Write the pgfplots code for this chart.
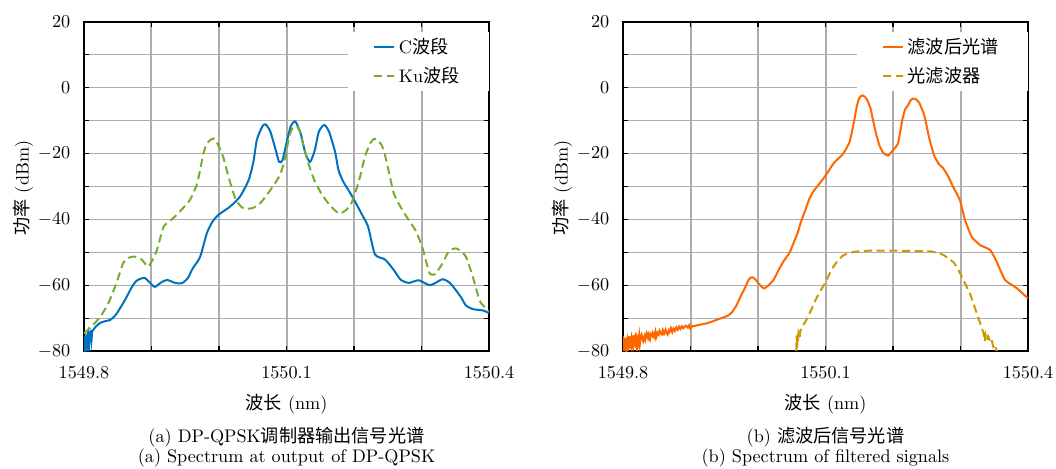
\documentclass[border=0pt]{standalone}
\usepackage{fontspec}
\usepackage{pgfplots}
\pgfplotsset{compat=1.18}
\newfontfamily\cjk{Noto Sans CJK SC}
\definecolor{cblue}{RGB}{0,114,189}
\definecolor{cgreen}{RGB}{119,172,48}
\definecolor{corange}{RGB}{255,102,0}
\definecolor{cgold}{RGB}{204,153,0}
\definecolor{cgrid}{RGB}{172,172,172}
\pgfplotsset{myax/.style={
  width=222.75pt, height=180.95pt, scale only axis,
  xmin=1549.8, xmax=1550.4, ymin=-80, ymax=20,
  xtick={1549.8,1549.9,1550.0,1550.1,1550.2,1550.3,1550.4},
  xticklabels={1549.8,,,1550.1,,,1550.4},
  ytick={-80,-70,-60,-50,-40,-30,-20,-10,0,10,20},
  yticklabels={$-80$,,$-60$,,$-40$,,$-20$,,$0$,,$20$},
  xmajorgrids, ymajorgrids,
  major x grid style={cgrid, line width=1.1pt},
  major y grid style={cgrid, line width=0.6pt},
  major tick length=2.6pt,
  tick style={black, line width=0.6pt},
  axis line style={line width=0.8pt},
  scaled x ticks=false,
  xticklabel style={yshift=-5pt},
  yticklabel style={xshift=-4pt},
  legend style={at={(1,1)}, anchor=north east, yshift=-5.5pt, draw=none, fill=white,
    inner xsep=14pt, inner ysep=1.3pt, row sep=2pt},
  legend cell align=left,
  legend image code/.code={\draw[##1] (0pt,0pt) -- (11pt,0pt);},
}}
\begin{document}
\begin{tikzpicture}
\useasboundingbox (-46.2pt,-64.35pt) rectangle (534.6pt,193.05pt);
\begin{axis}[myax, at={(0pt,0pt)}, anchor=south west]
\addplot[cblue, line width=1.1pt, smooth, tension=0.4] coordinates {
(1549.800,-75.5)(1549.8015,-80)(1549.803,-76)(1549.8045,-78.5)(1549.806,-74.5)(1549.807,-80)(1549.808,-75)(1549.810,-74)(1549.811,-77)(1549.812,-74.2)(1549.814,-73.5)(1549.818,-72.5)(1549.8237,-71.5)(1549.830,-71)(1549.8385,-70.6)(1549.845,-69.5)(1549.8504,-68)(1549.8607,-64.5)(1549.8711,-60.5)(1549.877,-58.8)(1549.883,-58.1)(1549.890,-57.8)(1549.898,-59.3)(1549.905,-60.5)(1549.914,-59.2)(1549.923,-58.4)(1549.935,-59.3)(1549.945,-59.4)(1549.954,-57.8)(1549.961,-54.9)(1549.972,-51.4)(1549.982,-44.2)(1549.991,-40.5)(1550.0,-38.5)(1550.0164,-36.1)(1550.031,-33.1)(1550.044,-28.0)(1550.051,-22.5)(1550.056,-15.9)(1550.064,-11.8)(1550.069,-11.1)(1550.076,-13.3)(1550.084,-18.9)(1550.089,-22.5)(1550.094,-22.0)(1550.101,-15.9)(1550.106,-11.8)(1550.111,-10.3)(1550.114,-10.5)(1550.121,-13.9)(1550.128,-19.9)(1550.135,-22.5)(1550.142,-18.9)(1550.148,-13.3)(1550.156,-11.3)(1550.163,-13.3)(1550.172,-19.5)(1550.177,-25)(1550.184,-28.5)(1550.193,-31.5)(1550.2,-34)(1550.211,-38.2)(1550.221,-42.3)(1550.231,-50.6)(1550.246,-52.2)(1550.259,-55.4)(1550.269,-58.3)(1550.281,-59.3)(1550.296,-58.5)(1550.313,-60.0)(1550.331,-58.2)(1550.343,-59.5)(1550.358,-63.5)(1550.366,-66.2)(1550.377,-67.3)(1550.3916,-67.7)(1550.4,-68.5)};
\addlegendentry{C{\cjk 波段}}
\addplot[cgreen, line width=1.1pt, dash pattern=on 4.5pt off 2.5pt, smooth, tension=0.4] coordinates {
(1549.800,-74.6)(1549.811,-72.6)(1549.824,-69.6)(1549.836,-65.5)(1549.848,-59.4)(1549.858,-53.3)(1549.865,-51.8)(1549.873,-51.3)(1549.883,-51.8)(1549.890,-53.3)(1549.895,-54.4)(1549.901,-52.5)(1549.908,-49.3)(1549.918,-42.2)(1549.927,-40.5)(1549.937,-38.7)(1549.947,-36.5)(1549.957,-34.1)(1549.967,-29.5)(1549.972,-25)(1549.977,-19.9)(1549.982,-17)(1549.987,-15.9)(1549.992,-15.4)(1549.9965,-16.4)(1550.006,-20.9)(1550.014,-27.0)(1550.024,-33.6)(1550.030,-35.5)(1550.036,-36.6)(1550.049,-36.6)(1550.061,-35.1)(1550.076,-31.1)(1550.089,-27.0)(1550.096,-23.0)(1550.103,-15.9)(1550.107,-13)(1550.111,-11.8)(1550.116,-11.8)(1550.120,-13.5)(1550.123,-15.9)(1550.131,-22.0)(1550.141,-28.0)(1550.153,-32.6)(1550.166,-36.1)(1550.178,-38.2)(1550.188,-37.2)(1550.196,-35.1)(1550.2015,-32.1)(1550.209,-27.0)(1550.216,-21.0)(1550.224,-16.9)(1550.229,-15.6)(1550.234,-15.7)(1550.239,-16.8)(1550.244,-18.9)(1550.251,-25.0)(1550.259,-32.1)(1550.269,-36.2)(1550.281,-40.2)(1550.291,-43.3)(1550.301,-48.3)(1550.311,-55.9)(1550.316,-56.8)(1550.321,-56.5)(1550.331,-53.4)(1550.338,-50.5)(1550.343,-49.3)(1550.350,-48.8)(1550.356,-49.3)(1550.366,-51.4)(1550.376,-57.5)(1550.386,-64.6)(1550.393,-66.5)(1550.4,-68.0)};
\addlegendentry{Ku{\cjk 波段}}
\end{axis}
\begin{axis}[myax, at={(296.45pt,0pt)}, anchor=south west]
\addplot[corange, line width=1.1pt, smooth, tension=0.3] coordinates {
(1549.800,-76.5)(1549.801,-80)(1549.8015,-77)(1549.803,-78.5)(1549.8035,-76)(1549.805,-79.5)(1549.806,-77.5)(1549.807,-80)(1549.8075,-76.5)(1549.809,-78)(1549.810,-75.5)(1549.8105,-77.5)(1549.812,-79)(1549.813,-76)(1549.814,-77.5)(1549.815,-75.3)(1549.8155,-78.5)(1549.817,-76.5)(1549.818,-77.4)(1549.819,-75.5)(1549.820,-76.5)(1549.821,-80)(1549.8215,-76)(1549.823,-77.5)(1549.824,-75.2)(1549.825,-78)(1549.826,-76)(1549.8275,-75)(1549.829,-76.2)(1549.830,-77)(1549.832,-75.5)(1549.833,-76.5)(1549.835,-74.5)(1549.837,-76)(1549.838,-75)(1549.840,-76.5)(1549.841,-74.8)(1549.843,-75.3)(1549.844,-74.5)(1549.846,-75.8)(1549.848,-74)(1549.849,-76)(1549.851,-74.5)(1549.853,-75)(1549.854,-73.8)(1549.856,-74.6)(1549.858,-75)(1549.859,-73.6)(1549.861,-74.8)(1549.863,-73.5)(1549.864,-74.2)(1549.866,-75)(1549.868,-73.8)(1549.869,-74.2)(1549.871,-73)(1549.873,-74.3)(1549.875,-73.2)(1549.877,-73.9)(1549.879,-72.8)(1549.881,-73.5)(1549.883,-72.6)(1549.885,-73.3)(1549.887,-72.5)(1549.889,-73.1)(1549.891,-72.6)(1549.893,-72.3)(1549.896,-72.9)(1549.898,-72.2)(1549.900,-73.3)(1549.902,-72.5)(1549.906,-72.4)(1549.914,-72)(1549.924,-71.6)(1549.934,-70.9)(1549.943,-70.2)(1549.955,-69.3)(1549.961,-68.3)(1549.968,-66.2)(1549.974,-63.5)(1549.980,-61.1)(1549.986,-58.4)(1549.990,-57.6)(1549.994,-57.8)(1549.9975,-58.6)(1550.004,-60.2)(1550.009,-61)(1550.014,-60.3)(1550.023,-58.4)(1550.030,-55.6)(1550.037,-53)(1550.047,-50.0)(1550.053,-47)(1550.059,-43.9)(1550.064,-40.5)(1550.069,-37.8)(1550.076,-33.8)(1550.082,-31.5)(1550.089,-29.7)(1550.1,-26.7)(1550.113,-22.7)(1550.126,-20.1)(1550.1355,-16.6)(1550.140,-12.5)(1550.143,-9.5)(1550.146,-6)(1550.149,-3.6)(1550.152,-2.6)(1550.155,-2.3)(1550.159,-2.9)(1550.163,-4.2)(1550.167,-6.5)(1550.170,-9.5)(1550.175,-14)(1550.180,-17.6)(1550.186,-19.9)(1550.193,-20.6)(1550.1995,-19.1)(1550.207,-17.1)(1550.211,-13)(1550.214,-9.5)(1550.218,-6.5)(1550.222,-5.4)(1550.226,-3.8)(1550.229,-3.3)(1550.234,-3.5)(1550.239,-4.6)(1550.2465,-8.5)(1550.254,-15.6)(1550.261,-20.6)(1550.268,-23.2)(1550.2745,-24.5)(1550.282,-27)(1550.289,-30.1)(1550.299,-34.1)(1550.3067,-40.2)(1550.3166,-45.3)(1550.329,-47.8)(1550.344,-49.3)(1550.3536,-52.9)(1550.366,-58.4)(1550.3833,-60.9)(1550.4,-64.0)};
\addlegendentry{{\cjk 滤波后光谱}}
\addplot[cgold, line width=1.1pt, dash pattern=on 4.5pt off 2.5pt, smooth, tension=0.3] coordinates {
(1550.0567,-80)(1550.0572,-75.5)(1550.0578,-79)(1550.0585,-75)(1550.0592,-77.5)(1550.060,-74.5)(1550.0615,-76)(1550.063,-73.8)(1550.0665,-72.3)(1550.071,-70.8)(1550.076,-68.7)(1550.081,-66.5)(1550.086,-64.2)(1550.093,-61.5)(1550.1,-59.1)(1550.106,-56.5)(1550.111,-54.6)(1550.118,-52.6)(1550.126,-51.0)(1550.135,-50.2)(1550.145,-49.8)(1550.165,-49.5)(1550.2,-49.5)(1550.2548,-49.7)(1550.2655,-50.2)(1550.2745,-50.8)(1550.283,-52)(1550.289,-52.9)(1550.2955,-54.8)(1550.3017,-57.4)(1550.308,-60)(1550.314,-62.5)(1550.324,-68.5)(1550.334,-74.6)(1550.336,-77)(1550.337,-75)(1550.339,-76.7)(1550.341,-75.5)(1550.344,-77.2)(1550.346,-76.5)(1550.3486,-78.7)(1550.351,-78)(1550.3536,-80)};
\addlegendentry{{\cjk 光滤波器}}
\end{axis}
\node at (111.375pt,-29.15pt) {{\cjk 波长} (nm)};
\node at (407.825pt,-29.15pt) {{\cjk 波长} (nm)};
\node at (-33.5pt,89.6pt) [rotate=90] {{\cjk 功率} (dBm)};
\node at (262.95pt,89.6pt) [rotate=90] {{\cjk 功率} (dBm)};
\node at (111.375pt,-47.3pt) {(a) DP-QPSK{\cjk 调制器输出信号光谱}};
\node at (111.375pt,-58.85pt) {(a) Spectrum at output of DP-QPSK};
\node at (407.825pt,-47.3pt) {(b) {\cjk 滤波后信号光谱}};
\node at (407.825pt,-58.85pt) {(b) Spectrum of filtered signals};
\end{tikzpicture}
\end{document}
